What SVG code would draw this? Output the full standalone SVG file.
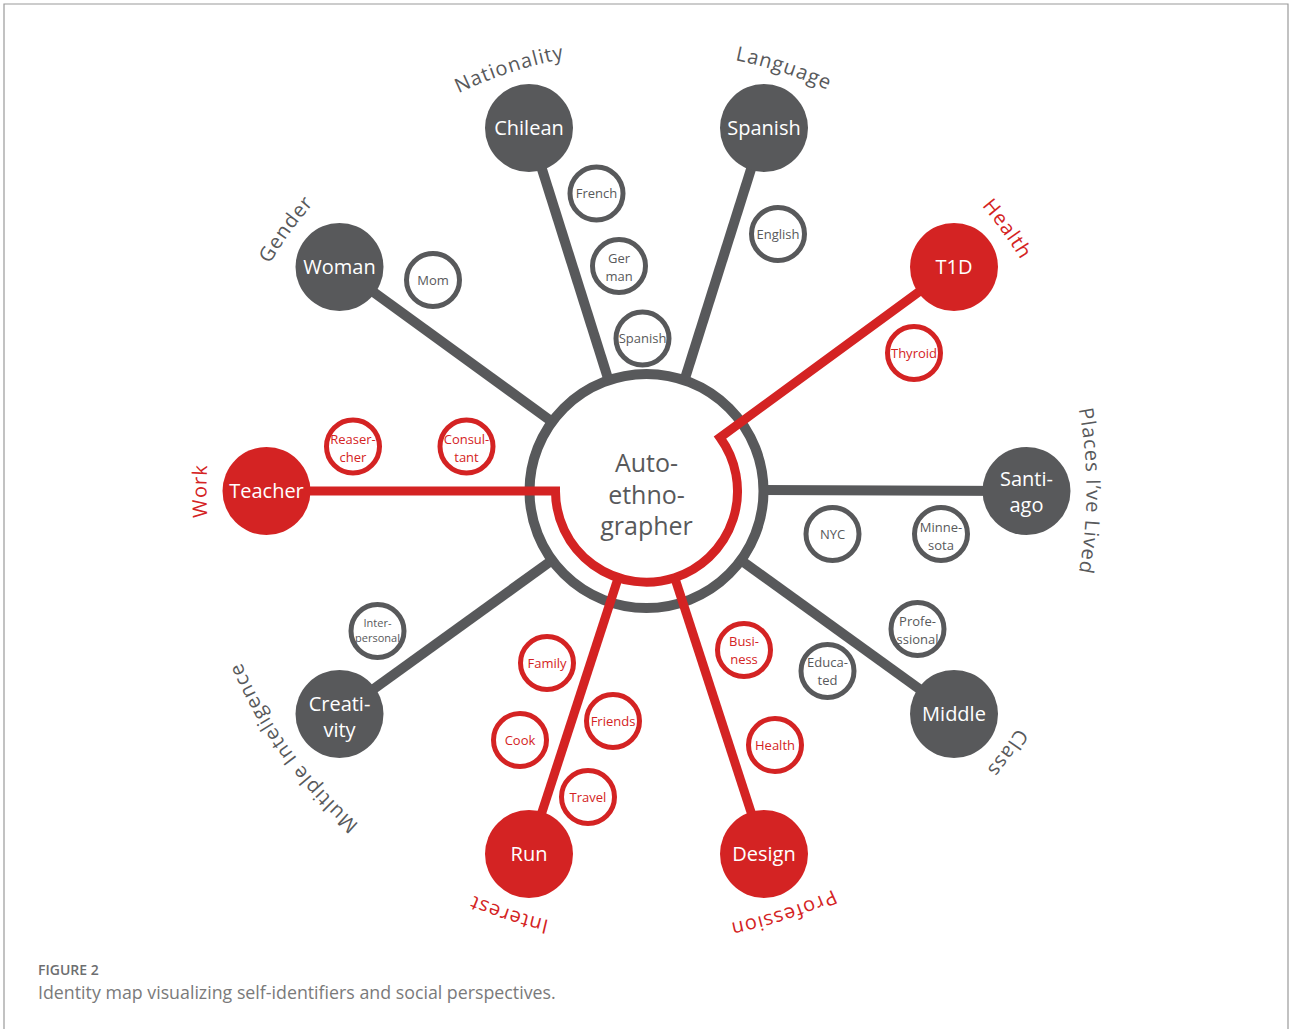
<svg xmlns="http://www.w3.org/2000/svg" width="1290" height="1029" viewBox="0 0 1290 1029">
<style>
.bg{fill:#ffffff}
.frame{fill:none;stroke:#9a9a9a;stroke-width:1.2}
.gl{stroke:#58595b;stroke-width:10;fill:none}
.rl{stroke:#d42323;stroke-width:9;fill:none;stroke-linejoin:miter}
.ring{fill:none;stroke:#58595b;stroke-width:10}
.bg-node{fill:#58595b}
.br-node{fill:#d42323}
.big{font-family:"Open Sans","Liberation Sans",sans-serif;font-size:20px;fill:#ffffff;text-anchor:middle}
.sg{fill:#ffffff;stroke:#58595b;stroke-width:5}
.sr{fill:#ffffff;stroke:#d42323;stroke-width:5}
.st{font-family:"Open Sans","Liberation Sans",sans-serif;font-size:13px;text-anchor:middle}
.tg{fill:#58595b}
.tr{fill:#d42323}
.center{font-family:"Open Sans","Liberation Sans",sans-serif;font-size:25px;fill:#58595b;text-anchor:middle}
.cat{font-family:"Open Sans","Liberation Sans",sans-serif;font-size:20px;letter-spacing:1px;text-anchor:middle}
.cap1{font-family:"Open Sans","Liberation Sans",sans-serif;font-size:14px;fill:#6d6e70;font-weight:600}
.cap2{font-family:"Open Sans","Liberation Sans",sans-serif;font-size:17.8px;fill:#7a7a7a}
</style>
<defs>
<path id="labelCircle" d="M646.5,51 A440,440 0 1,1 646.5,931 A440,440 0 1,1 646.5,51"/>
</defs>
<rect class="bg" x="0" y="0" width="1290" height="1029"/>
<path class="frame" d="M4,1029 V4 H1288 V1029"/>

<g id="node-center">
<circle class="ring" cx="646.5" cy="491" r="117"/>
<text class="center" x="646.5" y="472">Auto-</text>
<text class="center" x="646.5" y="504">ethno-</text>
<text class="center" x="646.5" y="535">grapher</text>
</g>

<g id="connectors">
<line class="gl" x1="608.5" y1="380" x2="529" y2="128"/>
<line class="gl" x1="684.5" y1="380" x2="764" y2="128"/>
<line class="gl" x1="551" y1="421" x2="339" y2="267"/>
<line class="gl" x1="763" y1="490" x2="1026" y2="491"/>
<line class="gl" x1="742" y1="561" x2="954" y2="714"/>
<line class="gl" x1="551" y1="561" x2="339" y2="714"/>
<path class="rl" d="M953.5,266.5 L720,437.5 A91,91 0 1,1 555.5,491 L266.5,491"/>
<line class="rl" x1="618.5" y1="577" x2="529" y2="852"/>
<line class="rl" x1="674.5" y1="577" x2="764" y2="852"/>
</g>

<g id="node-chilean"><circle class="bg-node" cx="529" cy="128" r="44"/><text class="big" x="529" y="135">Chilean</text></g>
<g id="node-spanish"><circle class="bg-node" cx="764" cy="128" r="44"/><text class="big" x="764" y="135">Spanish</text></g>
<g id="node-woman"><circle class="bg-node" cx="339.5" cy="267" r="44"/><text class="big" x="339.5" y="274">Woman</text></g>
<g id="node-t1d"><circle class="br-node" cx="954" cy="267" r="44"/><text class="big" x="954" y="274">T1D</text></g>
<g id="node-teacher"><circle class="br-node" cx="266.5" cy="491" r="44"/><text class="big" x="266.5" y="498">Teacher</text></g>
<g id="node-santiago"><circle class="bg-node" cx="1026.5" cy="491" r="44"/><text class="big" x="1026.5" y="486">Santi-</text><text class="big" x="1026.5" y="512">ago</text></g>
<g id="node-creativity"><circle class="bg-node" cx="339.5" cy="714" r="44"/><text class="big" x="339.5" y="711">Creati-</text><text class="big" x="339.5" y="737">vity</text></g>
<g id="node-middle"><circle class="bg-node" cx="954" cy="714" r="44"/><text class="big" x="954" y="721">Middle</text></g>
<g id="node-run"><circle class="br-node" cx="529" cy="854" r="44"/><text class="big" x="529" y="861">Run</text></g>
<g id="node-design"><circle class="br-node" cx="764" cy="854" r="44"/><text class="big" x="764" y="861">Design</text></g>

<g id="node-french"><circle class="sg" cx="596.5" cy="193.5" r="26.5"/><text class="st tg" x="596.5" y="198">French</text></g>
<g id="node-german"><circle class="sg" cx="619" cy="266" r="26.5"/><text class="st tg" x="619" y="263">Ger</text><text class="st tg" x="619" y="281">man</text></g>
<g id="node-spanish-small"><circle class="sg" cx="642.5" cy="338.5" r="26.5"/><text class="st tg" x="642.5" y="343">Spanish</text></g>
<g id="node-english"><circle class="sg" cx="778" cy="234" r="26.5"/><text class="st tg" x="778" y="238.5">English</text></g>
<g id="node-mom"><circle class="sg" cx="433" cy="280" r="26.5"/><text class="st tg" x="433" y="284.5">Mom</text></g>
<g id="node-thyroid"><circle class="sr" cx="914" cy="353" r="26.5"/><text class="st tr" x="914" y="357.5">Thyroid</text></g>
<g id="node-reasercher"><circle class="sr" cx="353" cy="446.5" r="26.5"/><text class="st tr" x="353" y="444">Reaser-</text><text class="st tr" x="353" y="462">cher</text></g>
<g id="node-consultant"><circle class="sr" cx="466.5" cy="446.5" r="26.5"/><text class="st tr" x="466.5" y="444">Consul-</text><text class="st tr" x="466.5" y="462">tant</text></g>
<g id="node-nyc"><circle class="sg" cx="832.5" cy="534" r="26.5"/><text class="st tg" x="832.5" y="538.5">NYC</text></g>
<g id="node-minnesota"><circle class="sg" cx="941" cy="534" r="26.5"/><text class="st tg" x="941" y="532">Minne-</text><text class="st tg" x="941" y="550">sota</text></g>
<g id="node-professional"><circle class="sg" cx="917.5" cy="629" r="26.5"/><text class="st tg" x="917.5" y="626">Profe-</text><text class="st tg" x="917.5" y="644">ssional</text></g>
<g id="node-educated"><circle class="sg" cx="827.5" cy="671" r="26.5"/><text class="st tg" x="827.5" y="667">Educa-</text><text class="st tg" x="827.5" y="685">ted</text></g>
<g id="node-interpersonal"><circle class="sg" cx="377.5" cy="631" r="26.5"/><text class="st tg" x="377.5" y="627" style="font-size:11px">Inter-</text><text class="st tg" x="377.5" y="642" style="font-size:11px">personal</text></g>
<g id="node-family"><circle class="sr" cx="547" cy="663" r="26.5"/><text class="st tr" x="547" y="667.5">Family</text></g>
<g id="node-friends"><circle class="sr" cx="613" cy="721" r="26.5"/><text class="st tr" x="613" y="725.5">Friends</text></g>
<g id="node-cook"><circle class="sr" cx="520" cy="740" r="26.5"/><text class="st tr" x="520" y="744.5">Cook</text></g>
<g id="node-travel"><circle class="sr" cx="588" cy="797" r="26.5"/><text class="st tr" x="588" y="801.5">Travel</text></g>
<g id="node-business"><circle class="sr" cx="744" cy="650" r="26.5"/><text class="st tr" x="744" y="646">Busi-</text><text class="st tr" x="744" y="664">ness</text></g>
<g id="node-health-small"><circle class="sr" cx="775" cy="745" r="26.5"/><text class="st tr" x="775" y="749.5">Health</text></g>

<g id="labels">
<text class="cat tg"><textPath href="#labelCircle" startOffset="5%">Language</textPath></text>
<text class="cat tr"><textPath href="#labelCircle" startOffset="15%">Health</textPath></text>
<text class="cat tg"><textPath href="#labelCircle" startOffset="25%">Places I’ve Lived</textPath></text>
<text class="cat tg"><textPath href="#labelCircle" startOffset="35%">Class</textPath></text>
<text class="cat tr"><textPath href="#labelCircle" startOffset="45%">Profession</textPath></text>
<text class="cat tr"><textPath href="#labelCircle" startOffset="55%">Interest</textPath></text>
<text class="cat tg"><textPath href="#labelCircle" startOffset="65%">Multiple Inteligence</textPath></text>
<text class="cat tr"><textPath href="#labelCircle" startOffset="75%">Work</textPath></text>
<text class="cat tg"><textPath href="#labelCircle" startOffset="85%">Gender</textPath></text>
<text class="cat tg"><textPath href="#labelCircle" startOffset="95%">Nationality</textPath></text>
</g>

<text class="cap1" x="38" y="975">FIGURE 2</text>
<text class="cap2" x="38" y="999">Identity map visualizing self-identifiers and social perspectives.</text>
</svg>
